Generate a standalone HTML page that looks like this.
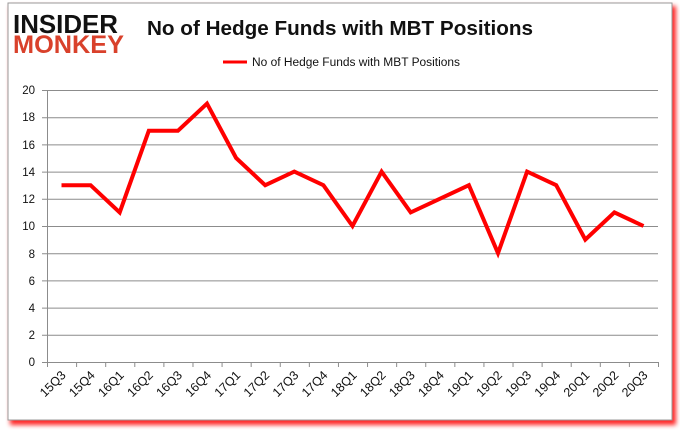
<!DOCTYPE html>
<html><head><meta charset="utf-8"><style>
body{margin:0;width:680px;height:433px;background:#fff;overflow:hidden;font-family:"Liberation Sans",sans-serif}
</style></head><body>
<svg width="680" height="433" xmlns="http://www.w3.org/2000/svg" font-family="Liberation Sans, sans-serif">
<defs><filter id="sh" x="-5%" y="-5%" width="110%" height="110%"><feGaussianBlur stdDeviation="2.5"/></filter></defs>
<rect x="10" y="6" width="666" height="419" fill="#f00" filter="url(#sh)" opacity="0.85"/>
<rect x="8" y="3" width="664" height="417" fill="#fff" stroke="#999" stroke-width="1"/>
<text x="13" y="33" font-size="26" font-weight="bold" fill="#111" textLength="105" lengthAdjust="spacingAndGlyphs">INSIDER</text>
<text x="13" y="53" font-size="25" font-weight="bold" fill="#d9412b" textLength="111" lengthAdjust="spacingAndGlyphs">MONKEY</text>
<text x="147" y="35" font-size="20" font-weight="bold" fill="#111" textLength="386" lengthAdjust="spacingAndGlyphs">No of Hedge Funds with MBT Positions</text>
<line x1="223" y1="62" x2="247" y2="62" stroke="#f00" stroke-width="3"/>
<text x="252" y="66" font-size="11.5" fill="#111" textLength="208" lengthAdjust="spacingAndGlyphs">No of Hedge Funds with MBT Positions</text>
<g stroke="#8c8c8c" stroke-width="1">
<line x1="42" y1="90.5" x2="658" y2="90.5"/><line x1="42" y1="117.7" x2="658" y2="117.7"/><line x1="42" y1="144.9" x2="658" y2="144.9"/><line x1="42" y1="172.1" x2="658" y2="172.1"/><line x1="42" y1="199.3" x2="658" y2="199.3"/><line x1="42" y1="226.5" x2="658" y2="226.5"/><line x1="42" y1="253.7" x2="658" y2="253.7"/><line x1="42" y1="280.9" x2="658" y2="280.9"/><line x1="42" y1="308.1" x2="658" y2="308.1"/><line x1="42" y1="335.3" x2="658" y2="335.3"/><line x1="42" y1="362.5" x2="658" y2="362.5"/>
<line x1="47.5" y1="90" x2="47.5" y2="362"/>
</g>
<g stroke="#8c8c8c" stroke-width="1" id="ticks"></g>
<g font-size="11.5" fill="#111" text-anchor="end">
<text x="35" y="94">20</text><text x="35" y="121">18</text><text x="35" y="149">16</text><text x="35" y="176">14</text><text x="35" y="203">12</text><text x="35" y="230">10</text><text x="35" y="258">8</text><text x="35" y="285">6</text><text x="35" y="312">4</text><text x="35" y="339">2</text><text x="35" y="366">0</text>
</g>
<g id="xl" font-size="12.5" fill="#111" text-anchor="end"></g>
<polyline id="ln" fill="none" stroke="#f00" stroke-width="4" stroke-linejoin="miter" points=""/>
<script>
var d=[13,13,11,17,17,19,15,13,14,13,10,14,11,12,13,8,14,13,9,11,10];
var lab=["15Q3","15Q4","16Q1","16Q2","16Q3","16Q4","17Q1","17Q2","17Q3","17Q4","18Q1","18Q2","18Q3","18Q4","19Q1","19Q2","19Q3","19Q4","20Q1","20Q2","20Q3"];
var ns="http://www.w3.org/2000/svg",w=(658-47)/21,p=[];
var tk=document.getElementById("ticks"),xl=document.getElementById("xl");
for(var i=0;i<=21;i++){var l=document.createElementNS(ns,"line");var x=47.5+i*w;l.setAttribute("x1",x);l.setAttribute("x2",x);l.setAttribute("y1",362);l.setAttribute("y2",367);tk.appendChild(l);}
for(var i=0;i<21;i++){var x=47+w*(i+0.5);p.push(x.toFixed(1)+","+(362-d[i]*13.6).toFixed(1));
var t=document.createElementNS(ns,"text");t.setAttribute("transform","translate("+(x+5)+",376) rotate(-45)");t.textContent=lab[i];xl.appendChild(t);}
document.getElementById("ln").setAttribute("points",p.join(" "));
</script>
</svg>
</body></html>
